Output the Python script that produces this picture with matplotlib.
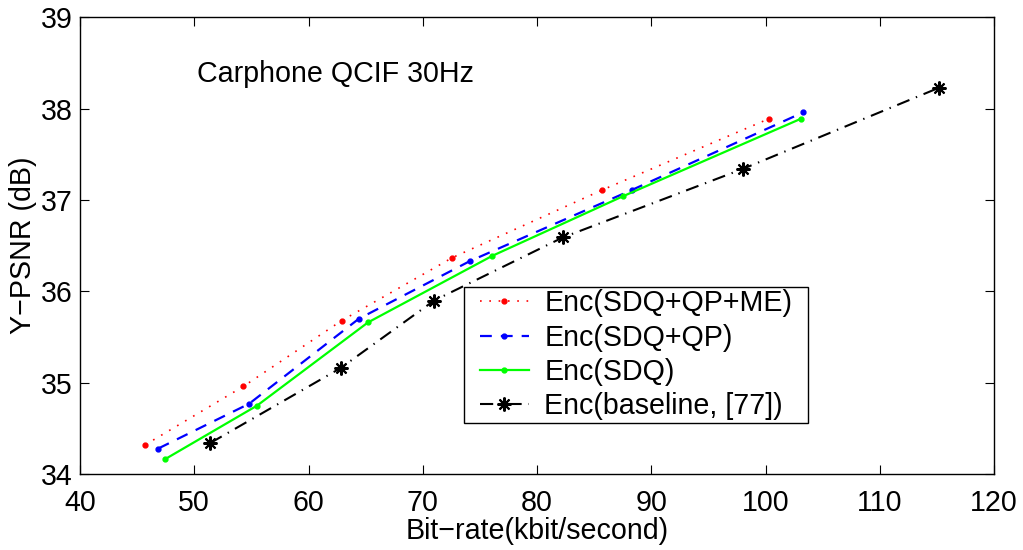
import matplotlib
matplotlib.use('Agg')
import matplotlib.pyplot as plt
from matplotlib.patches import Rectangle

# rate-distortion points (kbit/s, dB)
rate_sdq_qp_me = [45.7, 54.3, 62.9, 72.6, 85.7, 100.3]
psnr_sdq_qp_me = [34.32, 34.96, 35.68, 36.37, 37.11, 37.89]

rate_sdq_qp = [46.85, 54.8, 64.4, 74.1, 88.3, 103.3]
psnr_sdq_qp = [34.28, 34.77, 35.70, 36.33, 37.11, 37.96]

rate_sdq = [47.4, 55.5, 65.2, 76.1, 87.5, 103.1]
psnr_sdq = [34.16, 34.75, 35.66, 36.39, 37.04, 37.89]

rate_base = [51.4, 62.8, 71.0, 82.25, 98.0, 115.2]
psnr_base = [34.34, 35.16, 35.90, 36.59, 37.34, 38.23]

labels = ['Enc(SDQ+QP+ME)', 'Enc(SDQ+QP)', 'Enc(SDQ)', 'Enc(baseline, [77])']
x_ticks = [40, 50, 60, 70, 80, 90, 100, 110, 120]
y_ticks = [34, 35, 36, 37, 38, 39]

FS = 20.6

plt.rcParams['font.family'] = ['Liberation Sans', 'DejaVu Sans']
plt.rcParams['lines.scale_dashes'] = False

fig = plt.figure(figsize=(10.23, 5.5), dpi=100)
ax = fig.add_axes([0.0782, 0.138, 0.8935, 0.8305])

ax.plot(rate_sdq_qp_me, psnr_sdq_qp_me, color='#ff0000', lw=1.2,
        dashes=(1.2, 5.5), marker='o', ms=3.5, label=labels[0])
ax.plot(rate_sdq_qp, psnr_sdq_qp, color='#0000ff', lw=1.6,
        dashes=(8.5, 6.5), marker='o', ms=3.5, label=labels[1])
ax.plot(rate_sdq, psnr_sdq, color='#00ff00', lw=1.6,
        ls='-', marker='o', ms=3.5, label=labels[2])
ax.plot(rate_base, psnr_base, color='black', lw=1.5,
        dashes=(9.5, 5, 1, 5), marker=(8, 2, 0), ms=10, mew=1.5,
        label=labels[3])

ax.set_xlim(40, 120)
ax.set_ylim(34, 39)
ax.set_xticks(x_ticks)
ax.set_yticks(y_ticks)
ax.tick_params(direction='in', length=6.5, width=0.8, labelsize=FS,
               top=True, right=True)
ax.tick_params(axis='x', pad=11)
ax.tick_params(axis='y', pad=5)
for s in ax.spines.values():
    s.set_linewidth(1.0)

ax.set_xlabel('Bit\u2212rate(kbit/second)', fontsize=FS, labelpad=0)
ax.set_ylabel('Y\u2212PSNR (dB)', fontsize=FS, labelpad=3)

ax.text(50.2, 38.29, 'Carphone QCIF 30Hz', fontsize=FS,
        ha='left', va='baseline')

# legend without its own frame; the box is drawn below with wider side padding
leg = ax.legend(loc='lower left', bbox_to_anchor=(0.4348, 0.1123),
                fontsize=FS, frameon=False, borderaxespad=0, numpoints=1,
                handlelength=1.7, handletextpad=0.55, labelspacing=0.22,
                borderpad=0.09)

fig.canvas.draw()
bb = leg.get_window_extent()
padx = 13.0
ax.add_patch(Rectangle((bb.x0 - padx, bb.y0), bb.width + 2 * padx, bb.height,
                       transform=None, facecolor='white', edgecolor='black',
                       lw=1.0, zorder=4.9))
leg.set_zorder(5)

fig.savefig('out.png', dpi=100)
